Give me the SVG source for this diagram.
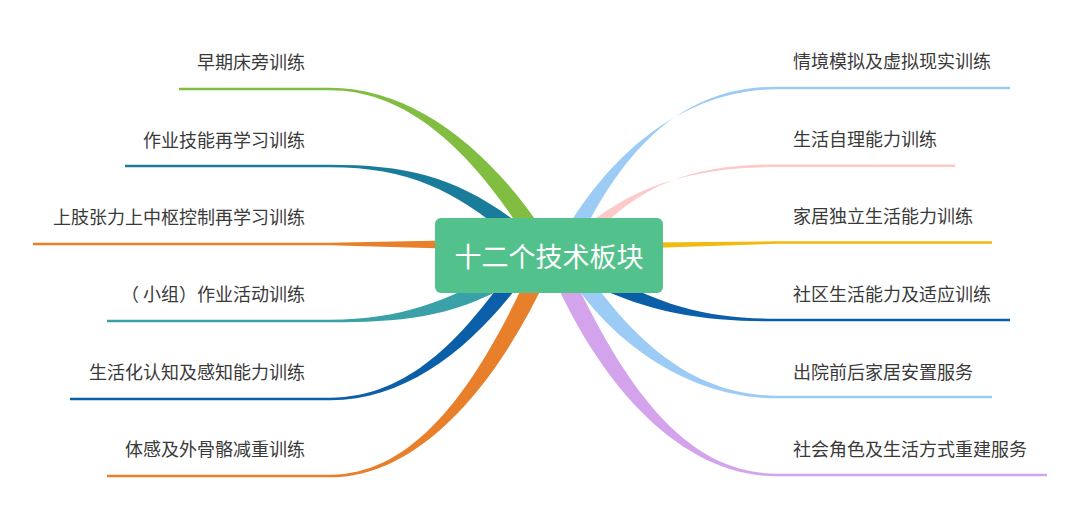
<svg xmlns="http://www.w3.org/2000/svg" width="1080" height="511" viewBox="0 0 1080 511">
<style>
.t{font-family:"Noto Sans CJK SC","Noto Sans",sans-serif;font-size:18px;fill:#3a3a3a}
.l{text-anchor:end}
.u{fill:none;stroke-width:2.6;stroke-linecap:butt}
</style>
<rect width="1080" height="511" fill="#ffffff"/>
<g id="connectors">
  <!-- left -->
  <path d="M179 89H330" class="u" stroke="#80bd41"/>
  <path d="M330 87.7 C410 87.7 486 145 542.6 230.1 L527.4 239.9 C474 155 410 90.3 330 90.3Z" fill="#80bd41"/>
  <path d="M125 166H330" class="u" stroke="#1a7c9b"/>
  <path d="M330 164.7 C410 164.7 462 178 525.1 228.8 L514.9 241.2 C458 192 410 167.3 330 167.3Z" fill="#1a7c9b"/>
  <path d="M33 244H330" class="u" stroke="#e8802b"/>
  <path d="M330 242.7 L445 240.5 L445 248.5 L330 245.3Z" fill="#e8802b"/>
  <path d="M107 321H330" class="u" stroke="#3ba1a9"/>
  <path d="M330 319.7 C400 319.7 446 302 506 268.1 L514 281.9 C454 318 400 322.3 330 322.3Z" fill="#3ba1a9"/>
  <path d="M70 399H330" class="u" stroke="#0b5ea8"/>
  <path d="M330 397.7 C410 397.7 464 336 513.5 265.4 L526.5 274.6 C476 344 410 400.3 330 400.3Z" fill="#0b5ea8"/>
  <path d="M107 476H330" class="u" stroke="#e8802b"/>
  <path d="M330 474.7 C420 474.7 482 376 531.8 266.3 L548.2 273.7 C498 384 420 477.3 330 477.3Z" fill="#e8802b"/>
  <!-- right -->
  <path d="M777 88H1010" class="u" stroke="#9ccbf6"/>
  <path d="M777 86.7 C700 86.7 634 126 578 243.8 L562 236.2 C622 134 700 89.3 777 89.3Z" fill="#9ccbf6"/>
  <path d="M777 165.7H955" class="u" stroke="#fdc9c9"/>
  <path d="M777 164.4 C700 164.4 640 180 585 245 L575 235 C634 182 700 167 777 167Z" fill="#fdc9c9"/>
  <path d="M777 242.5H992" class="u" stroke="#f2b90f"/>
  <path d="M777 241.3 L650 242.5 L650 248 L777 243.8Z" fill="#f2b90f"/>
  <path d="M777 320H1010" class="u" stroke="#0b5ea8"/>
  <path d="M777 318.7 C710 318.7 664 308 594 268 L586 282 C656 316 710 321.3 777 321.3Z" fill="#0b5ea8"/>
  <path d="M777 397H992" class="u" stroke="#9ccbf6"/>
  <path d="M777 395.7 C690 395.7 630 336 582 266 L568 274 C612 344 690 398.3 777 398.3Z" fill="#9ccbf6"/>
  <path d="M777 475H1047" class="u" stroke="#d3a4eb"/>
  <path d="M777 473.7 C680 473.7 620 376 568 266 L552 274 C600 384 680 476.3 777 476.3Z" fill="#d3a4eb"/>
</g>
<g id="center">
  <rect x="435" y="218" width="228" height="75" rx="6" fill="#52c18c"/>
  <text x="549" y="267" text-anchor="middle" font-family="Noto Sans CJK SC,Noto Sans,sans-serif" font-size="27" fill="#ffffff">十二个技术板块</text>
</g>
<g id="n-l1"><text class="t l" x="305" y="69">早期床旁训练</text></g>
<g id="n-l2"><text class="t l" x="305" y="147">作业技能再学习训练</text></g>
<g id="n-l3"><text class="t l" x="305" y="224">上肢张力上中枢控制再学习训练</text></g>
<g id="n-l4"><text class="t" x="121 143 161 179 197 215 233 251 269 287" y="301">（小组）作业活动训练</text></g>
<g id="n-l5"><text class="t l" x="305" y="379">生活化认知及感知能力训练</text></g>
<g id="n-l6"><text class="t l" x="305" y="456">体感及外骨骼减重训练</text></g>
<g id="n-r1"><text class="t" x="793" y="68">情境模拟及虚拟现实训练</text></g>
<g id="n-r2"><text class="t" x="793" y="146">生活自理能力训练</text></g>
<g id="n-r3"><text class="t" x="793" y="223">家居独立生活能力训练</text></g>
<g id="n-r4"><text class="t" x="793" y="301">社区生活能力及适应训练</text></g>
<g id="n-r5"><text class="t" x="793" y="379">出院前后家居安置服务</text></g>
<g id="n-r6"><text class="t" x="793" y="456">社会角色及生活方式重建服务</text></g>
</svg>
